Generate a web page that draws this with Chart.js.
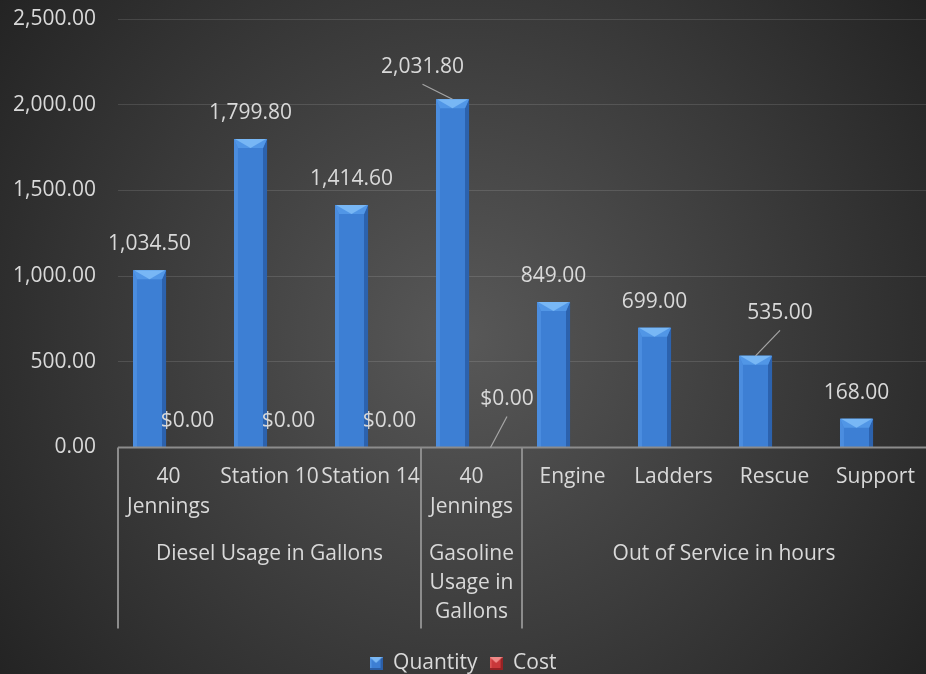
<!DOCTYPE html>
<html>
<head>
<meta charset="utf-8">
<script src="https://cdn.jsdelivr.net/npm/chart.js@4.4.1/dist/chart.umd.min.js"></script>
<style>
  html, body { margin: 0; padding: 0; background: #262626; }
  #wrap { width: 926px; height: 674px; }
</style>
</head>
<body>
<div id="wrap"><canvas id="chart" width="926" height="674"></canvas></div>
<script>
// categories and groups (two-level axis)
const categories = [['40', 'Jennings'], 'Station 10', 'Station 14', ['40', 'Jennings'], 'Engine', 'Ladders', 'Rescue', 'Support'];
const groupNames = ['Diesel Usage in Gallons', 'Gasoline Usage in Gallons', 'Out of Service in hours'];
const groupSizes = [3, 1, 4];

// series
const quantity = [1034.5, 1799.8, 1414.6, 2031.8, 849, 699, 535, 168];
const cost = [0, 0, 0, 0, null, null, null, null];

const yTicks = [0, 500, 1000, 1500, 2000, 2500];

const TXT = '#d9d9d9';
const FONT = '"Open Sans", sans-serif';
const FSIZE = 21;

// labels that were moved off their bar get a leader line: [dx, dy] from default spot
const labelShift = { '0-3': [-30, -6], '0-6': [24.5, -16.5], '1-3': [16.5, -22] };

const fmt = v => v.toLocaleString('en-US', { minimumFractionDigits: 2, maximumFractionDigits: 2 });

function makeIcon(base, light, dark, top) {
    const c = document.createElement('canvas');
    c.width = 13; c.height = 13;
    const g = c.getContext('2d');
    g.fillStyle = base; g.fillRect(0, 0, 13, 13);
    g.fillStyle = light; g.fillRect(0, 0, 2, 13);
    g.fillStyle = dark; g.fillRect(11, 0, 2, 13); g.fillRect(0, 11, 13, 2);
    g.fillStyle = top;
    g.beginPath(); g.moveTo(0, 0); g.lineTo(13, 0); g.lineTo(6.5, 6); g.closePath(); g.fill();
    return c;
}
const legendIcons = [
    makeIcon('#3d7fd4', '#4f92e2', '#2b5fa8', '#7ab8f5'),
    makeIcon('#c9383a', '#dc5150', '#962224', '#f08a88')
];

function bevelBar(ctx, el) {
    const { x, y, base, width } = el.getProps(['x', 'y', 'base', 'width'], true);
    const h = base - y;
    if (h <= 0) return;
    const l = x - width / 2, r = x + width / 2;
    const d = Math.min(9, h / 2);
    const s = Math.min(4, width / 6, h / 2);
    ctx.save();
    // left side light
    ctx.fillStyle = '#4b8ddf';
    ctx.beginPath(); ctx.moveTo(l, y); ctx.lineTo(l + s, y + d); ctx.lineTo(l + s, base); ctx.lineTo(l, base); ctx.closePath(); ctx.fill();
    // right side dark
    ctx.fillStyle = '#2c62ad';
    ctx.beginPath(); ctx.moveTo(r, y); ctx.lineTo(r - s, y + d); ctx.lineTo(r - s, base); ctx.lineTo(r, base); ctx.closePath(); ctx.fill();
    // top bevel
    ctx.fillStyle = '#5196e6';
    ctx.beginPath(); ctx.moveTo(l, y); ctx.lineTo(r, y); ctx.lineTo(r - s, y + d); ctx.lineTo(l + s, y + d); ctx.closePath(); ctx.fill();
    ctx.fillStyle = '#78b7f5';
    ctx.beginPath(); ctx.moveTo(l + 1, y); ctx.lineTo(r - 1, y); ctx.lineTo(x, y + d); ctx.closePath(); ctx.fill();
    ctx.restore();
}

function wrapText(ctx, text, maxW) {
    const words = text.split(' ');
    const lines = [];
    let cur = '';
    words.forEach(w => {
        const t = cur ? cur + ' ' + w : w;
        if (cur && ctx.measureText(t).width > maxW) { lines.push(cur); cur = w; }
        else cur = t;
    });
    if (cur) lines.push(cur);
    return lines;
}

const decor = {
    id: 'decor',
    beforeDraw(chart) {
        const { ctx, width, height } = chart;
        const g = ctx.createRadialGradient(width / 2, height / 2, 0, width / 2, height / 2, 590);
        g.addColorStop(0, '#585858');
        g.addColorStop(1, '#222222');
        ctx.save();
        ctx.fillStyle = g;
        ctx.fillRect(0, 0, width, height);
        ctx.restore();
    },
    afterDatasetsDraw(chart) {
        const { ctx, chartArea } = chart;
        const xs = chart.scales.x;
        chart.getDatasetMeta(0).data.forEach(el => bevelBar(ctx, el));

        // axis line and group separators
        const half = (xs.getPixelForValue(1) - xs.getPixelForValue(0)) / 2;
        const axisY = chartArea.bottom;
        ctx.save();
        ctx.strokeStyle = '#8c8c8c';
        ctx.lineWidth = 2;
        ctx.beginPath();
        ctx.moveTo(chartArea.left, axisY); ctx.lineTo(chartArea.right, axisY);
        let idx = 0;
        const bounds = [];
        groupSizes.forEach(n => { bounds.push([idx, idx + n - 1]); idx += n; });
        bounds.forEach(([a]) => {
            const bx = xs.getPixelForValue(a) - half;
            ctx.moveTo(bx, axisY); ctx.lineTo(bx, axisY + 181);
        });
        ctx.stroke();

        // group names
        ctx.font = FSIZE + 'px ' + FONT;
        ctx.fillStyle = TXT;
        ctx.textAlign = 'center';
        ctx.textBaseline = 'middle';
        bounds.forEach(([a, b], i) => {
            const x0 = xs.getPixelForValue(a) - half, x1 = xs.getPixelForValue(b) + half;
            const lines = wrapText(ctx, groupNames[i], x1 - x0 - 8);
            lines.forEach((ln, k) => ctx.fillText(ln, (x0 + x1) / 2, axisY + 107 + k * 29));
        });

        // value labels
        chart.data.datasets.forEach((ds, di) => {
            chart.getDatasetMeta(di).data.forEach((el, i) => {
                const v = ds.data[i];
                if (v === null || v === undefined) return;
                const txt = (di === 1 ? '$' : '') + fmt(v);
                const sh = labelShift[di + '-' + i];
                let lx = el.x, ly = el.y - 26;
                if (sh) {
                    lx += sh[0]; ly += sh[1];
                    ctx.strokeStyle = '#a6a6a6';
                    ctx.lineWidth = 1.2;
                    ctx.beginPath();
                    ctx.moveTo(lx, ly + 17); ctx.lineTo(el.x, el.y);
                    ctx.stroke();
                }
                ctx.fillText(txt, lx, ly);
            });
        });
        ctx.restore();
    }
};

new Chart(document.getElementById('chart'), {
    type: 'bar',
    data: {
        labels: categories,
        datasets: [
            { label: 'Quantity', data: quantity, backgroundColor: '#3d7fd4', borderWidth: 0 },
            { label: 'Cost', data: cost, backgroundColor: '#c9383a', borderWidth: 0 }
        ]
    },
    options: {
        responsive: false,
        devicePixelRatio: 1,
        animation: false,
        categoryPercentage: 0.752,
        barPercentage: 0.87,
        layout: { padding: { top: 19, right: 0, bottom: -10, left: 0 } },
        scales: {
            x: {
                grid: { display: false },
                border: { display: false },
                ticks: {
                    color: TXT, autoSkip: false, maxRotation: 0, minRotation: 0, padding: 7,
                    font: { family: FONT, size: FSIZE, lineHeight: 1.4 }
                },
                afterFit(s) { s.height = 193.5; }
            },
            y: {
                min: 0, max: 2500,
                afterBuildTicks(s) { s.ticks = yTicks.map(v => ({ value: v })); },
                afterFit(s) { s.width = 118; },
                grid: {
                    color: 'rgba(255,255,255,0.12)', lineWidth: 1,
                    drawTicks: true, tickLength: 22, tickColor: 'rgba(0,0,0,0)'
                },
                border: { display: false },
                ticks: {
                    color: TXT, padding: 0,
                    font: { family: FONT, size: FSIZE },
                    callback: v => fmt(v)
                }
            }
        },
        plugins: {
            legend: {
                position: 'bottom',
                labels: {
                    color: TXT, usePointStyle: true, boxWidth: 13, boxHeight: 13, padding: 12,
                    font: { family: FONT, size: FSIZE },
                    generateLabels(chart) {
                        const items = Chart.defaults.plugins.legend.labels.generateLabels(chart);
                        items.forEach((it, i) => { it.pointStyle = legendIcons[i]; });
                        return items;
                    }
                }
            },
            tooltip: { enabled: false }
        }
    },
    plugins: [decor]
});
</script>
</body>
</html>
